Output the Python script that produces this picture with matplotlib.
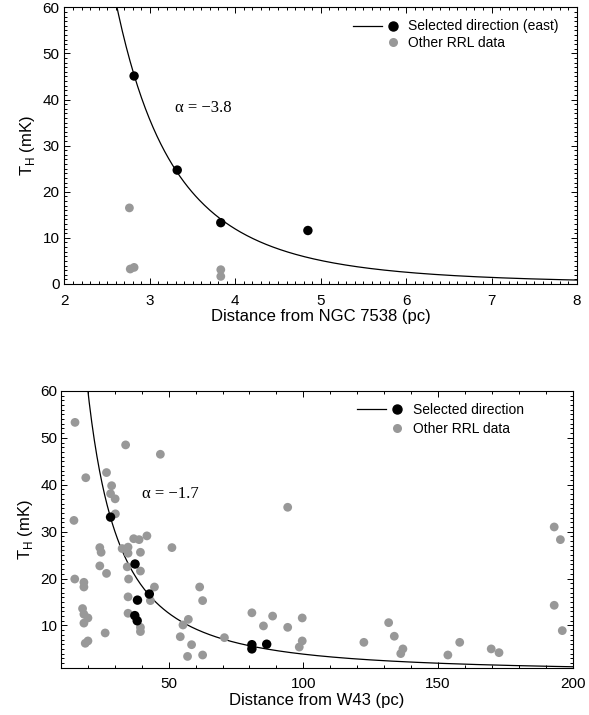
import numpy as np
import matplotlib
matplotlib.use("Agg")
import matplotlib.pyplot as plt
from matplotlib.lines import Line2D
from matplotlib.legend_handler import HandlerTuple
from matplotlib.ticker import MultipleLocator

plt.rcParams['font.family'] = ['Liberation Sans', 'DejaVu Sans']
plt.rcParams['mathtext.fontset'] = 'custom'
plt.rcParams['mathtext.rm'] = 'Liberation Sans'

GRAY = '#989898'

# --- NGC 7538 (top panel) ---
ngc_sel_d = [2.815, 3.32, 3.83, 4.85]
ngc_sel_t = [45.1, 24.7, 13.3, 11.6]
ngc_oth_d = [2.76, 2.77, 2.815, 3.83, 3.83]
ngc_oth_t = [16.5, 3.25, 3.6, 3.1, 1.65]
ngc_alpha = -3.8
ngc_ref = (2.82, 45.0)   # point the power law goes through

# --- W43 (bottom panel) ---
w43_sel_d = [28.4, 37.5, 42.8, 38.4, 37.4, 38.3, 80.9, 80.9, 86.4]
w43_sel_t = [33.1, 23.1, 16.7, 15.4, 12.1, 11.0, 5.9, 5.0, 6.0]
w43_oth_d = [15.2, 34.0, 46.9, 26.9, 19.2, 28.8, 28.4, 30.1, 30.2, 14.8,
             37.0, 39.0, 41.9, 51.2, 24.4, 24.9, 32.7, 34.9, 34.9, 39.5,
             24.4, 26.9, 34.6, 39.5, 35.1, 15.1, 18.5, 18.5, 44.7, 43.2,
             61.5, 62.6, 34.9, 18.0, 18.5, 20.0, 18.5, 34.9, 39.5, 39.5,
             26.4, 19.0, 20.0, 57.3, 55.3, 54.3, 58.5, 57.0, 62.6, 70.7,
             94.2, 80.9, 88.6, 85.2, 94.2, 99.6, 99.6, 98.5, 122.5, 131.7,
             133.8, 137.0, 136.2, 153.7, 158.1, 169.8, 172.7, 193.2, 195.5, 193.2,
             196.2]
w43_oth_t = [53.3, 48.5, 46.5, 42.6, 41.5, 39.8, 38.1, 37.0, 33.8, 32.4,
             28.5, 28.3, 29.1, 26.6, 26.6, 25.6, 26.4, 26.7, 25.4, 25.6,
             22.7, 21.1, 22.5, 21.6, 19.9, 19.9, 19.2, 18.2, 18.2, 15.3,
             18.2, 15.3, 16.1, 13.6, 12.4, 11.6, 10.5, 12.6, 9.6, 8.7,
             8.4, 6.2, 6.7, 11.3, 10.1, 7.6, 5.9, 3.4, 3.7, 7.4,
             35.2, 12.7, 12.0, 9.9, 9.6, 11.6, 6.7, 5.4, 6.4, 10.6,
             7.7, 5.0, 4.0, 3.7, 6.4, 5.0, 4.2, 31.0, 28.3, 14.3,
             8.9]
w43_alpha = -1.7
w43_ref = (28.4, 33.0)


def power_law(d, ref, alpha):
    return ref[1] * (d / ref[0]) ** alpha


def style_axes(ax, xmajor, xminor, ymajor, yminor, ypad):
    ax.xaxis.set_major_locator(MultipleLocator(xmajor))
    ax.xaxis.set_minor_locator(MultipleLocator(xminor))
    ax.yaxis.set_major_locator(MultipleLocator(ymajor))
    ax.yaxis.set_minor_locator(MultipleLocator(yminor))
    ax.tick_params(which='both', direction='in', top=True, right=True,
                   width=0.7, labelsize=11)
    ax.tick_params(which='major', length=4)
    ax.tick_params(which='minor', length=2)
    ax.tick_params(axis='x', pad=7)
    ax.tick_params(axis='y', pad=ypad)
    for s in ax.spines.values():
        s.set_linewidth(0.8)


def panel(ax, sel_d, sel_t, oth_d, oth_t, ref, alpha, xlim, ylim, label1, xlabel):
    xs = np.linspace(xlim[0], xlim[1], 400)
    ax.plot(xs, power_law(xs, ref, alpha), color='k', lw=0.9, zorder=2)
    ax.scatter(oth_d, oth_t, s=40, color=GRAY, edgecolors='none', zorder=3)
    ax.scatter(sel_d, sel_t, s=46, color='k', edgecolors='none', zorder=4)
    ax.set_xlim(*xlim)
    ax.set_ylim(*ylim)
    ax.set_xlabel(xlabel, fontsize=12, labelpad=1)
    ax.set_ylabel(r'T$_\mathregular{H}$ (mK)', fontsize=12, labelpad=4)

    line_h = Line2D([], [], color='k', lw=0.9)
    blk_h = Line2D([], [], ls='none', marker='o', color='k', ms=6.5)
    gry_h = Line2D([], [], ls='none', marker='o', color=GRAY, mec='none', ms=6.5)
    blank = Line2D([], [], ls='none')
    return [(line_h, blk_h), (blank, gry_h)], [label1, 'Other RRL data']


fig = plt.figure(figsize=(5.89, 7.15), dpi=100)
ax1 = fig.add_axes([0.1095, 0.6028, 0.870, 0.387])
ax2 = fig.add_axes([0.1036, 0.0662, 0.8684, 0.387])

h, l = panel(ax1, ngc_sel_d, ngc_sel_t, ngc_oth_d, ngc_oth_t, ngc_ref, ngc_alpha,
             (2, 8), (0, 60), 'Selected direction (east)', 'Distance from NGC 7538 (pc)')
style_axes(ax1, 1, 0.1, 10, 1, 3.5)
ax1.legend(h, l, handler_map={tuple: HandlerTuple(ndivide=2, pad=-0.25)},
           loc='upper right', bbox_to_anchor=(0.965, 0.956), frameon=False,
           fontsize=10, borderpad=0, borderaxespad=0, handlelength=3.9,
           handletextpad=0.1, labelspacing=0.2)
ax1.text(3.29, 38.1, 'α = −3.8', family='Liberation Serif', fontsize=12,
         ha='left', va='center')

h, l = panel(ax2, w43_sel_d, w43_sel_t, w43_oth_d, w43_oth_t, w43_ref, w43_alpha,
             (10, 200), (1, 60), 'Selected direction', 'Distance from W43 (pc)')
style_axes(ax2, 50, 10, 10, 1, 2.5)
ax2.legend(h, l, handler_map={tuple: HandlerTuple(ndivide=2, pad=-0.25)},
           loc='upper right', bbox_to_anchor=(0.905, 0.957), frameon=False,
           fontsize=10, borderpad=0, borderaxespad=0, handlelength=3.9,
           handletextpad=0.1, labelspacing=0.35)
ax2.text(40, 38.0, 'α = −1.7', family='Liberation Serif', fontsize=12,
         ha='left', va='center')

fig.savefig('out.png', dpi=100)
